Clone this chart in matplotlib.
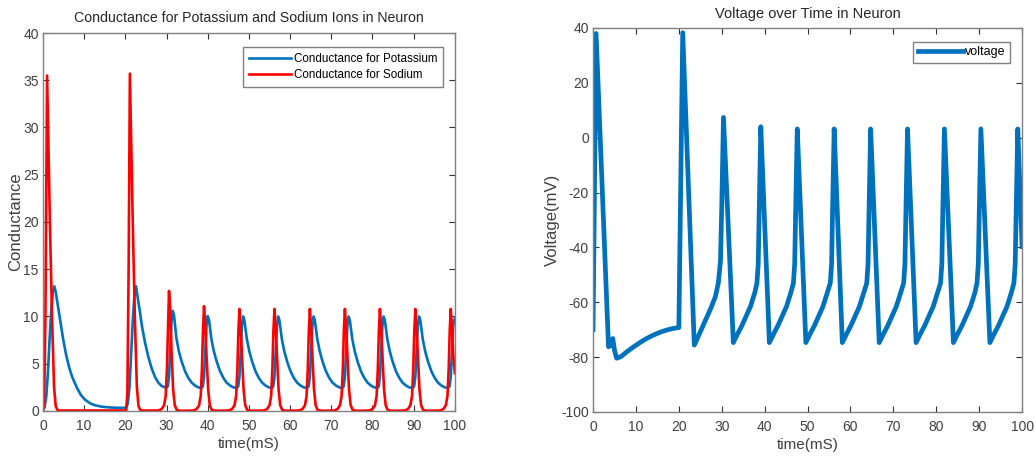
import matplotlib.pyplot as plt

plt.rcParams['font.family'] = ['Liberation Sans', 'DejaVu Sans']
plt.rcParams['axes.unicode_minus'] = False

# potassium conductance (blue)
k_time = [0, 0.4, 0.8, 1.2, 1.6, 2.0, 2.4, 2.75, 3.1, 3.6, 4.2, 4.9, 5.6, 6.3, 7.1, 8.2, 9.2, 10.2, 11.5, 12.5, 14.2, 16.0, 18.0, 20.2,
          20.6, 21.0, 21.4, 21.8, 22.2, 22.6, 23.0, 23.5, 24.1, 24.8, 25.6, 26.4, 27.2, 28.0, 28.8, 29.6, 30.0,
          30.3, 30.6, 30.9, 31.2, 31.5, 31.8, 32.4, 33.0, 33.7, 34.5, 35.3, 36.1, 36.9, 37.7, 38.5,
          38.8, 39.1, 39.4, 39.7, 40.0, 40.3, 40.9, 41.5, 42.2, 43.0, 43.8, 44.6, 45.4, 46.2, 47.0,
          47.4, 47.7, 48.0, 48.3, 48.6, 48.9, 49.5, 50.1, 50.8, 51.6, 52.4, 53.2, 54.0, 54.8, 55.6,
          55.9, 56.2, 56.5, 56.8, 57.1, 57.4, 58.0, 58.6, 59.3, 60.1, 60.9, 61.7, 62.5, 63.3, 64.1,
          64.5, 64.8, 65.1, 65.4, 65.7, 66.0, 66.6, 67.2, 67.9, 68.7, 69.5, 70.3, 71.1, 71.9, 72.7,
          73.0, 73.3, 73.6, 73.9, 74.2, 74.5, 75.1, 75.7, 76.4, 77.2, 78.0, 78.8, 79.6, 80.4, 81.2,
          81.5, 81.8, 82.1, 82.4, 82.7, 83.0, 83.6, 84.2, 84.9, 85.7, 86.5, 87.3, 88.1, 88.9, 89.7,
          90.1, 90.4, 90.7, 91.0, 91.3, 91.6, 92.2, 92.8, 93.5, 94.3, 95.1, 95.9, 96.7, 97.5, 98.3,
          98.7, 99.0, 99.3, 99.6, 100.0]
k_cond = [0.1, 0.4, 1.5, 4.0, 7.5, 10.5, 12.6, 13.2, 12.6, 11.2, 9.5, 7.6, 6.0, 4.7, 3.6, 2.5, 1.7, 1.2, 0.8, 0.62, 0.46, 0.38, 0.34, 0.33,
          0.8, 2.5, 6.0, 9.5, 12.2, 13.2, 12.0, 10.6, 8.8, 7.2, 5.7, 4.5, 3.6, 3.0, 2.65, 2.5, 2.5,
          2.6, 3.6, 6.4, 9.4, 10.6, 10.2, 7.7, 6.3, 5.2, 4.2, 3.5, 3.0, 2.7, 2.5, 2.45,
          2.6, 3.6, 6.3, 9.0, 10.05, 9.65, 7.6, 6.3, 5.2, 4.2, 3.5, 3.0, 2.7, 2.5, 2.45,
          2.6, 3.6, 6.3, 9.0, 10.0, 9.6, 7.6, 6.3, 5.2, 4.2, 3.5, 3.0, 2.7, 2.5, 2.45,
          2.6, 3.6, 6.3, 9.0, 10.0, 9.6, 7.6, 6.3, 5.2, 4.2, 3.5, 3.0, 2.7, 2.5, 2.45,
          2.6, 3.6, 6.3, 9.0, 10.0, 9.6, 7.6, 6.3, 5.2, 4.2, 3.5, 3.0, 2.7, 2.5, 2.45,
          2.6, 3.6, 6.3, 9.0, 10.0, 9.6, 7.6, 6.3, 5.2, 4.2, 3.5, 3.0, 2.7, 2.5, 2.45,
          2.6, 3.6, 6.3, 9.0, 10.0, 9.6, 7.6, 6.3, 5.2, 4.2, 3.5, 3.0, 2.7, 2.5, 2.45,
          2.6, 3.6, 6.3, 9.0, 10.0, 9.6, 7.6, 6.3, 5.2, 4.2, 3.5, 3.0, 2.7, 2.5, 2.45,
          2.6, 3.6, 6.3, 9.0, 9.9]

# sodium conductance (red)
na_time = [0, 0.3, 0.6, 1.0, 1.7, 2.2, 2.7, 3.1, 3.6, 20.2,
           20.5, 20.8, 21.1, 21.8, 22.3, 22.8, 23.2, 23.7, 28.0,
           28.8, 29.4, 29.8, 30.1, 30.35, 30.6, 30.9, 31.2, 31.6, 32.0, 32.5, 33.5,
           36.5, 37.3, 37.9, 38.3, 38.6, 38.85, 39.1, 39.4, 39.7, 40.1, 40.5, 41.0, 42.0,
           45.1, 45.9, 46.5, 46.9, 47.2, 47.45, 47.7, 48.0, 48.3, 48.7, 49.1, 49.6, 50.6,
           53.6, 54.4, 55.0, 55.4, 55.7, 55.95, 56.2, 56.5, 56.8, 57.2, 57.6, 58.1, 59.1,
           62.2, 63.0, 63.6, 64.0, 64.3, 64.55, 64.8, 65.1, 65.4, 65.8, 66.2, 66.7, 67.7,
           70.7, 71.5, 72.1, 72.5, 72.8, 73.05, 73.3, 73.6, 73.9, 74.3, 74.7, 75.2, 76.2,
           79.2, 80.0, 80.6, 81.0, 81.3, 81.55, 81.8, 82.1, 82.4, 82.8, 83.2, 83.7, 84.7,
           87.8, 88.6, 89.2, 89.6, 89.9, 90.15, 90.4, 90.7, 91.0, 91.4, 91.8, 92.3, 93.3,
           96.4, 97.2, 97.8, 98.2, 98.5, 98.75, 99.0, 99.3, 99.6, 100.0]
na_cond = [0, 1.0, 10.0, 35.5, 19.7, 10.0, 2.5, 0.5, 0.05, 0.05,
           2.0, 15.0, 35.7, 20.0, 10.0, 2.5, 0.5, 0.05, 0.05,
           0.2, 0.6, 1.6, 4.5, 8.5, 12.7, 10.7, 6.5, 2.3, 0.6, 0.1, 0.02,
           0.05, 0.2, 0.6, 1.6, 4.5, 8.5, 11.1, 9.1, 6.0, 2.3, 0.6, 0.1, 0.02,
           0.05, 0.2, 0.6, 1.6, 4.5, 8.5, 10.8, 8.8, 6.0, 2.3, 0.6, 0.1, 0.02,
           0.05, 0.2, 0.6, 1.6, 4.5, 8.5, 10.8, 8.8, 6.0, 2.3, 0.6, 0.1, 0.02,
           0.05, 0.2, 0.6, 1.6, 4.5, 8.5, 10.8, 8.8, 6.0, 2.3, 0.6, 0.1, 0.02,
           0.05, 0.2, 0.6, 1.6, 4.5, 8.5, 10.8, 8.8, 6.0, 2.3, 0.6, 0.1, 0.02,
           0.05, 0.2, 0.6, 1.6, 4.5, 8.5, 10.8, 8.8, 6.0, 2.3, 0.6, 0.1, 0.02,
           0.05, 0.2, 0.6, 1.6, 4.5, 8.5, 10.8, 8.8, 6.0, 2.3, 0.6, 0.1, 0.02,
           0.05, 0.2, 0.6, 1.6, 4.5, 8.5, 10.8, 8.8, 6.0, 4.0]

# membrane voltage
v_time = [0, 0.7, 3.6, 4.1, 4.6, 5.0, 5.5, 6.5, 8.0, 9.5, 11.0, 12.5, 14.0, 15.5, 17.0, 18.5, 20.0,
          20.9, 23.6, 24.5, 25.5, 26.5, 27.5, 28.5, 29.2, 29.7, 30.0, 30.4,
          32.7, 33.7, 34.7, 35.7, 36.7, 37.7, 38.2, 38.5, 38.75, 39.1,
          41.1, 42.1, 43.1, 44.1, 45.1, 46.1, 46.7, 47.0, 47.25, 47.6,
          49.6, 50.6, 51.6, 52.6, 53.6, 54.6, 55.3, 55.6, 55.85, 56.2,
          58.1, 59.1, 60.1, 61.1, 62.1, 63.1, 63.8, 64.1, 64.35, 64.7,
          66.7, 67.7, 68.7, 69.7, 70.7, 71.7, 72.4, 72.7, 72.95, 73.3,
          75.3, 76.3, 77.3, 78.3, 79.3, 80.3, 81.0, 81.3, 81.55, 81.9,
          84.0, 85.0, 86.0, 87.0, 88.0, 89.0, 89.5, 89.8, 90.05, 90.4,
          92.5, 93.5, 94.5, 95.5, 96.5, 97.5, 98.1, 98.4, 98.65, 99.0,
          100.0]
v_mv = [-70, 38, -76.2, -75.8, -73.2, -77.5, -80.4, -79.8, -77.9, -76.2, -74.6, -73.2, -72.0, -71.0, -70.2, -69.6, -69.2,
        38.3, -75.6, -72.5, -69.0, -65.5, -62.0, -58.0, -53.0, -45.0, -25.0, 7.4,
        -74.7, -71.5, -68.5, -65.0, -61.5, -56.5, -53.0, -46.0, -25.0, 4.0,
        -74.7, -71.5, -68.5, -65.0, -61.5, -56.5, -53.0, -46.0, -25.0, 3.2,
        -74.7, -71.5, -68.5, -65.0, -61.5, -56.5, -53.0, -46.0, -25.0, 3.2,
        -74.7, -71.5, -68.5, -65.0, -61.5, -56.5, -53.0, -46.0, -25.0, 3.2,
        -74.7, -71.5, -68.5, -65.0, -61.5, -56.5, -53.0, -46.0, -25.0, 3.2,
        -74.7, -71.5, -68.5, -65.0, -61.5, -56.5, -53.0, -46.0, -25.0, 3.2,
        -74.7, -71.5, -68.5, -65.0, -61.5, -56.5, -53.0, -46.0, -25.0, 3.2,
        -74.7, -71.5, -68.5, -65.0, -61.5, -56.5, -53.0, -46.0, -25.0, 3.2,
        -39.7]

x_ticks = list(range(0, 101, 10))
g_ticks = list(range(0, 41, 5))
v_ticks = list(range(-100, 41, 20))

BLUE = '#0072BD'
RED = '#FF0000'
AXIS = '#808080'
TEXT = '#404040'


def style_axes(ax):
    for s in ax.spines.values():
        s.set_color(AXIS)
        s.set_linewidth(1.0)
    ax.tick_params(direction='in', top=True, right=True, length=4, width=0.8,
                   color='#303030', labelcolor=TEXT, labelsize=10, pad=3)
    ax.tick_params(axis='x', pad=6)


fig = plt.figure(figsize=(10.35, 4.59), dpi=100)

# conductance plot
ax1 = fig.add_axes([0.0415, 0.1046, 0.398, 0.8235])
ax1.plot(k_time, k_cond, color=BLUE, lw=1.9, label='Conductance for Potassium')
ax1.plot(na_time, na_cond, color=RED, lw=1.9, label='Conductance for Sodium')
ax1.set_xlim(0, 100)
ax1.set_ylim(0, 40)
ax1.set_xticks(x_ticks)
ax1.set_yticks(g_ticks)
style_axes(ax1)
ax1.set_title('Conductance for Potassium and Sodium Ions in Neuron', fontsize=10.2, color='#262626', pad=8)
ax1.set_xlabel('time(mS)', fontsize=11, color=TEXT, labelpad=3)
ax1.set_ylabel('Conductance', fontsize=12, color=TEXT, labelpad=0)
leg1 = ax1.legend(loc='upper right', bbox_to_anchor=(0.971, 0.963), fontsize=8.4,
                  fancybox=False, framealpha=1, edgecolor=AXIS, handlelength=3.6,
                  handletextpad=0.2, borderpad=0.5, labelspacing=0.4, borderaxespad=0)
leg1.get_frame().set_linewidth(1.0)

# voltage plot
ax2 = fig.add_axes([0.573, 0.1024, 0.4145, 0.8366])
ax2.plot(v_time, v_mv, color=BLUE, lw=3.4, label='voltage')
ax2.set_xlim(0, 100)
ax2.set_ylim(-100, 40)
ax2.set_xticks(x_ticks)
ax2.set_yticks(v_ticks)
style_axes(ax2)
ax2.set_title('Voltage over Time in Neuron', fontsize=10.5, color='#262626', pad=7)
ax2.set_xlabel('time(mS)', fontsize=11, color=TEXT, labelpad=3)
ax2.set_ylabel('Voltage(mV)', fontsize=12, color=TEXT, labelpad=1)
leg2 = ax2.legend(loc='upper right', bbox_to_anchor=(0.972, 0.964), fontsize=9,
                  fancybox=False, framealpha=1, edgecolor=AXIS, handlelength=3.6,
                  handletextpad=0.2, borderpad=0.35, borderaxespad=0)
leg2.get_frame().set_linewidth(1.0)

fig.savefig('out.png', dpi=100)
